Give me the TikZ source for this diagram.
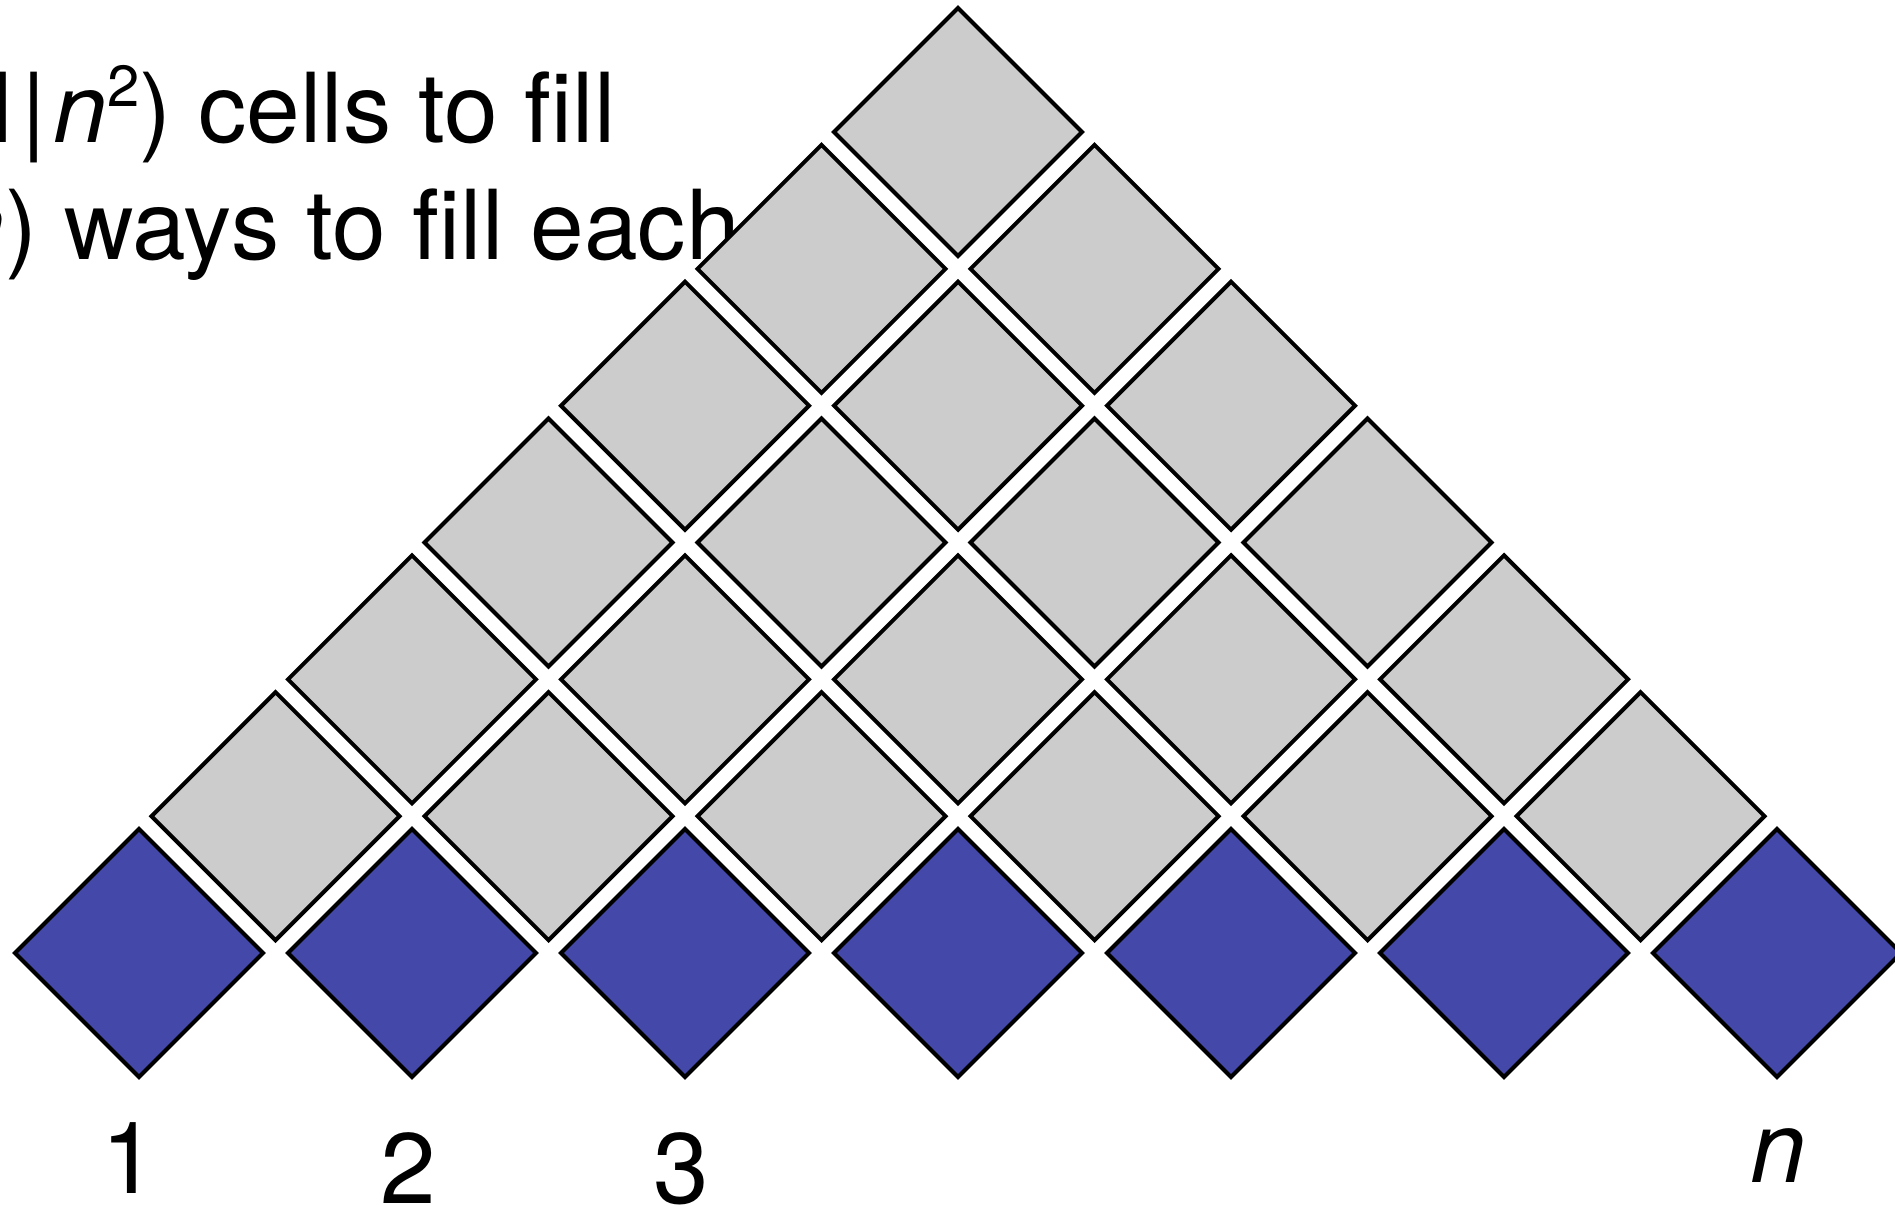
\documentclass[tikz,border=0pt]{standalone}
\usepackage{fontspec}
\setmainfont{TeX Gyre Heros}
\definecolor{cellgray}{HTML}{CCCCCC}
\definecolor{cellblue}{HTML}{4449A9}
\newcommand\mysups[1]{\raisebox{0.38em}{\fontsize{58}{60}\selectfont #1}}
\begin{document}
\begin{tikzpicture}[x=1pt,y=-1pt,
  cellbase/.style={draw=black,line width=4pt,line join=miter},
  gcell/.style={cellbase,fill=cellgray},
  bcell/.style={cellbase,fill=cellblue},
  txt/.style={inner sep=0pt,anchor=base east,font=\fontsize{96.5}{114}\selectfont},
  lab/.style={inner sep=0pt,anchor=base,font=\fontsize{100}{120}\selectfont}]
\useasboundingbox (0,0) rectangle (1895,1206);
\clip (0,0) rectangle (1895,1206);
\fill[white] (0,0) rectangle (1895,1206);
% text lines (partly cut off at the left edge)
\node[txt] (l1) at (616,143) {O(|\textbf{N}\kern0.1em|\kern0.07em\textit{n}\mysups{2}) cells to fill};
\node[txt] (l2) at (740,260) {O(\textit{n}) ways to fill each};
% bottom row (blue)
\foreach \i in {0,...,6}{
  \pgfmathsetmacro\cx{139+273*\i}
  \draw[bcell] (\cx,829) -- (\cx+124,953) -- (\cx,1077) -- (\cx-124,953) -- cycle;
}
% upper rows (gray)
\foreach \k in {1,...,6}{
  \pgfmathtruncatemacro\m{6-\k}
  \foreach \i in {0,...,\m}{
    \pgfmathsetmacro\cx{139+136.5*\k+273*\i}
    \pgfmathsetmacro\cy{953-136.83*\k}
    \draw[gcell] (\cx,\cy-124) -- (\cx+124,\cy) -- (\cx,\cy+124) -- (\cx-124,\cy) -- cycle;
  }
}
% labels
\node[lab] (n1) at (129,1193) {1};
\node[lab] (n2) at (408,1203) {2};
\node[lab] (n3) at (681,1203) {3};
\node[lab] (nn) at (1778,1182) {\textit{n}};
\end{tikzpicture}
\end{document}
